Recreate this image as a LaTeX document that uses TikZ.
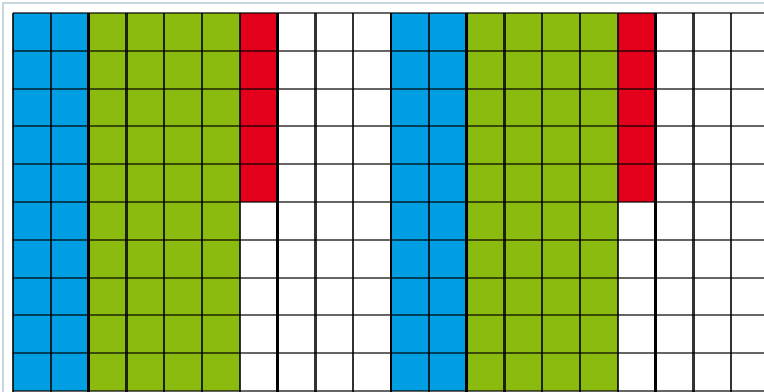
\documentclass[tikz,border=0pt]{standalone}
\usepackage{tikz}
\definecolor{cellblue}{RGB}{0,159,227}
\definecolor{cellgreen}{RGB}{140,187,16}
\definecolor{cellred}{RGB}{227,0,27}
\definecolor{framegray}{RGB}{200,214,224}

\begin{document}
\begin{tikzpicture}[
  x=0.02cm,y=-0.02cm,
  vline/.style={black,opacity=0.8,line width=1.3pt},
  hline/.style={black,opacity=0.6,line width=1.2pt},
  bline/.style={black,line width=1.7pt},
]
\useasboundingbox (0,0) rectangle (764,392);
\clip (0,0) rectangle (764,392);
\def\cw{37.8}
% outer frame (only top and left are inside the picture)
\draw[framegray,line width=1.2pt] (3,3) rectangle (820,420);
% ---- coloured blocks, two repeats of 10 columns ----
\foreach \s in {0,10}{
  \fill[cellblue]  ({13+\s*\cw},13) rectangle +({2*\cw},{10*\cw});
  \fill[cellgreen] ({13+(\s+2)*\cw},13) rectangle +({4*\cw},{10*\cw});
  \fill[cellred]   ({13+(\s+6)*\cw},13) rectangle +({\cw},{5*\cw});
}
% ---- grid ----
\foreach \j in {0,...,10}
  \draw[hline] (13,{13+\j*\cw}) -- (770,{13+\j*\cw});
\foreach \i in {0,...,20}
  \draw[vline] ({13+\i*\cw},13) -- ({13+\i*\cw},395);
% block borders a little heavier
\foreach \i in {2,7,10,12,17}
  \draw[bline] ({13+\i*\cw},13) -- ({13+\i*\cw},395);
\end{tikzpicture}
\end{document}
